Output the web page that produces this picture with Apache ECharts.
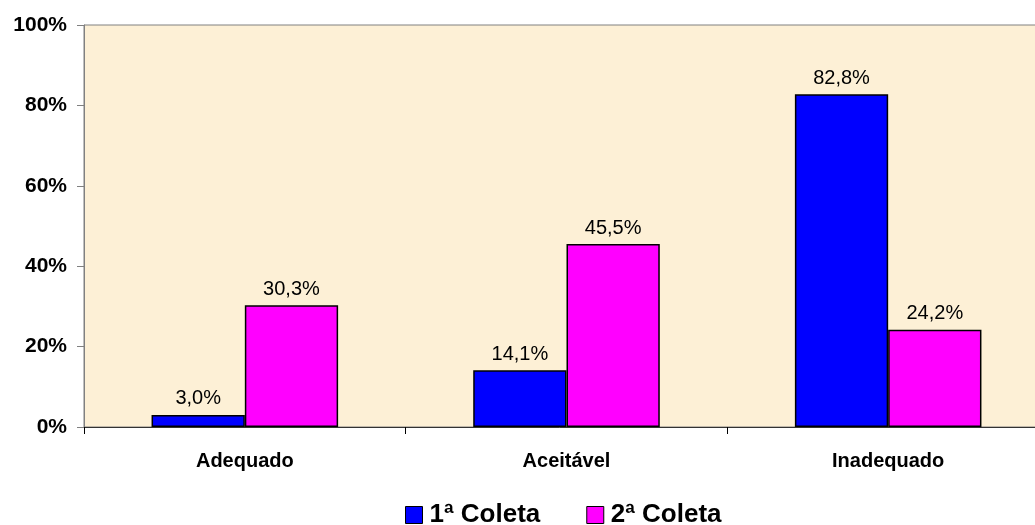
<!DOCTYPE html>
<html><head><meta charset="utf-8">
<script src="https://cdn.jsdelivr.net/npm/echarts@6/dist/echarts.min.js"></script>
<style>html,body{margin:0;padding:0;background:#fff}#c{width:1035px;height:525px}</style>
</head><body><div id="c"></div>
<script>
const categories = ['Adequado', 'Aceitável', 'Inadequado'];
const coleta1 = [3.0, 14.1, 82.8];
const coleta2 = [30.3, 45.5, 24.2];
const seriesNames = ['1ª Coleta', '2ª Coleta'];
const yTicks = [0, 20, 40, 60, 80, 100];

const font = '"Liberation Sans", Arial, sans-serif';
const chart = echarts.init(document.getElementById('c'));
const lbl = {
  show: true, position: 'top', distance: 6, color: '#000', fontSize: 20, fontFamily: font,
  formatter: p => p.value.toFixed(1).replace('.', ',') + '%'
};
chart.setOption({
  animation: false,
  grid: { left: 84, top: 25, right: -14, bottom: 98, outerBoundsMode: 'none', containLabel: false,
    show: true, backgroundColor: '#FDF0D6', borderColor: '#808080', borderWidth: 1 },
  legend: {
    top: 502, left: 405, padding: 0, itemWidth: 17, itemHeight: 17, itemGap: 46,
    textStyle: { fontSize: 26, fontWeight: 'bold', color: '#000', fontFamily: font, padding: [0, 0, 0, 2] },
    data: seriesNames.map(n => ({ name: n, icon: 'rect', itemStyle: { borderColor: '#000', borderWidth: 1 } }))
  },
  xAxis: {
    type: 'category', data: categories,
    axisLine: { lineStyle: { color: '#333' } },
    axisTick: { show: true, length: 7, lineStyle: { color: '#000' } },
    axisLabel: { margin: 24, fontSize: 20, fontWeight: 'bold', color: '#000', fontFamily: font }
  },
  yAxis: {
    type: 'value', min: 0, max: 100, interval: 20,
    axisLine: { show: true, lineStyle: { color: '#808080' } },
    axisTick: { show: true, length: 7, lineStyle: { color: '#808080' } },
    splitLine: { show: false },
    axisLabel: { margin: 17, fontSize: 21, fontWeight: 'bold', color: '#000', fontFamily: font,
      formatter: v => yTicks.includes(v) ? v + '%' : '' }
  },
  series: [
    { name: seriesNames[0], type: 'bar', data: coleta1, barGap: '0%', barCategoryGap: '42%',
      itemStyle: { color: '#0000FF', borderColor: '#000', borderWidth: 1.5 }, label: lbl },
    { name: seriesNames[1], type: 'bar', data: coleta2,
      itemStyle: { color: '#FF00FF', borderColor: '#000', borderWidth: 1.5 }, label: lbl }
  ]
});
</script></body></html>
